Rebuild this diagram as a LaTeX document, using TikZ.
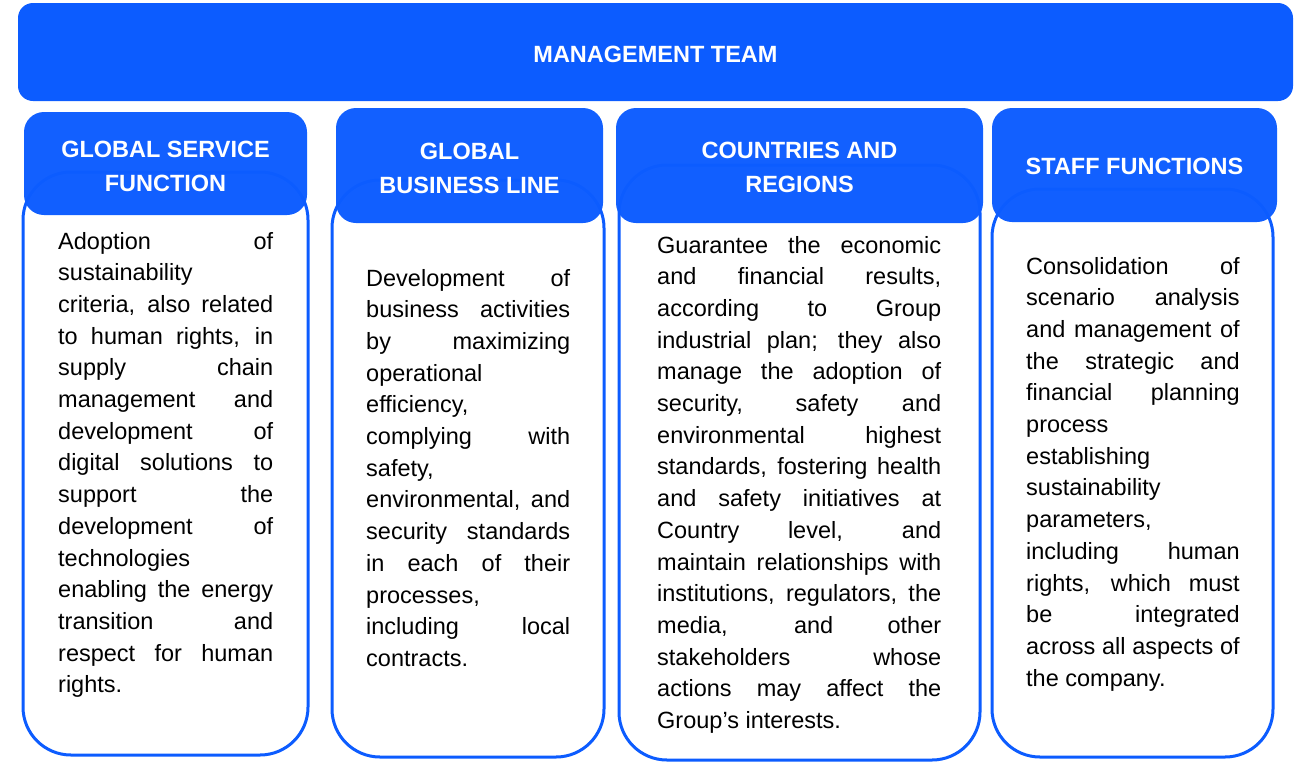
\documentclass[tikz,border=0pt]{standalone}
\usepackage{fontspec}
\setmainfont{Liberation Sans}
\definecolor{brandblue}{HTML}{0C5CFF}

% width of the justified text block in a column
\newdimen\colw
% a justified line and a flush-left line
\newcommand\jrow[1]{\hbox to\colw{#1}}
\newcommand\lrow[1]{\hbox to\colw{#1\hfil}}

\tikzset{
  banner/.style={fill=brandblue, draw=none, rounded corners=15pt, inner sep=0pt},
  headbox/.style={fill=brandblue, fill opacity=0.975, draw=none, rounded corners=20pt, inner sep=0pt},
  headtext/.style={text=white, align=center, inner sep=0pt,
    font=\bfseries\fontsize{23.5pt}{34pt}\selectfont},
  bodybox/.style={draw=brandblue, line width=3pt, rounded corners=48pt, fill=white, inner sep=0pt},
  bodytext/.style={inner sep=0pt, anchor=base west, text=black,
    font=\fontsize{23.5pt}{31.7pt}\selectfont}
}

\begin{document}
\begin{tikzpicture}[x=1pt, y=-1pt]
\useasboundingbox (0,0) rectangle (1296,764);

% top banner
\node[banner, minimum width=1275pt, minimum height=98pt] (mgmt) at (655.5,52) {};
\node[headtext] (mgmtt) at (655.5,54) {MANAGEMENT TEAM};

% column outlines
\node[bodybox, minimum width=285pt, minimum height=583pt] (b1) at (165.5,463.5) {};
\node[bodybox, minimum width=272pt, minimum height=577pt] (b2) at (468,468.5) {};
\node[bodybox, minimum width=361pt, minimum height=595pt] (b3) at (799.5,462.5) {};
\node[bodybox, minimum width=281pt, minimum height=568pt] (b4) at (1132.5,473) {};

% column headers
\node[headbox, minimum width=283pt, minimum height=103pt] (h1) at (165.5,163.5) {};
\node[headbox, minimum width=267pt, minimum height=115pt] (h2) at (469.5,165.5) {};
\node[headbox, minimum width=367pt, minimum height=115pt] (h3) at (799.5,165.5) {};
\node[headbox, minimum width=285pt, minimum height=114pt] (h4) at (1134.5,165) {};

\node[headtext] (h1t) at (165.5,166) {GLOBAL SERVICE\\FUNCTION};
\node[headtext] (h2t) at (469.5,168) {GLOBAL\\BUSINESS LINE};
\node[headtext] (h3t) at (799.5,167.5) {COUNTRIES AND\\REGIONS};
\node[headtext] (h4t) at (1134.5,166) {STAFF FUNCTIONS};

% column texts
\node[bodytext] (t1) at (58,249) {\colw=215pt\vtop{%
\jrow{Adoption of}
\lrow{sustainability}
\jrow{criteria, also related}
\jrow{to human rights, in}
\jrow{supply chain}
\jrow{management and}
\jrow{development of}
\jrow{digital solutions to}
\jrow{support the}
\jrow{development of}
\lrow{technologies}
\jrow{enabling the energy}
\jrow{transition and}
\jrow{respect for human}
\lrow{rights.}}};

\node[bodytext] (t2) at (366,286) {\colw=204pt\vtop{%
\jrow{Development of}
\jrow{business activities}
\jrow{by maximizing}
\lrow{operational}
\lrow{efficiency,}
\jrow{complying with}
\lrow{safety,}
\jrow{environmental, and}
\jrow{security standards}
\jrow{in each of their}
\lrow{processes,}
\jrow{including local}
\lrow{contracts.}}};

\node[bodytext] (t3) at (657,253) {\colw=284pt\vtop{%
\jrow{Guarantee the economic}
\jrow{and financial results,}
\jrow{according to Group}
\jrow{industrial plan; they also}
\jrow{manage the adoption of}
\jrow{security, safety and}
\jrow{environmental highest}
\jrow{standards, fostering health}
\jrow{and safety initiatives at}
\jrow{Country level, and}
\jrow{maintain relationships with}
\jrow{institutions, regulators, the}
\jrow{media, and other}
\jrow{stakeholders whose}
\jrow{actions may affect the}
\lrow{Group’s interests.}}};

\node[bodytext] (t4) at (1026,274) {\colw=213.5pt\vtop{%
\jrow{Consolidation of}
\jrow{scenario analysis}
\jrow{and management of}
\jrow{the strategic and}
\jrow{financial planning}
\lrow{process}
\lrow{establishing}
\lrow{sustainability}
\lrow{parameters,}
\jrow{including human}
\jrow{rights, which must}
\jrow{be integrated}
\jrow{across all aspects of}
\lrow{the company.}}};
\end{tikzpicture}
\end{document}
